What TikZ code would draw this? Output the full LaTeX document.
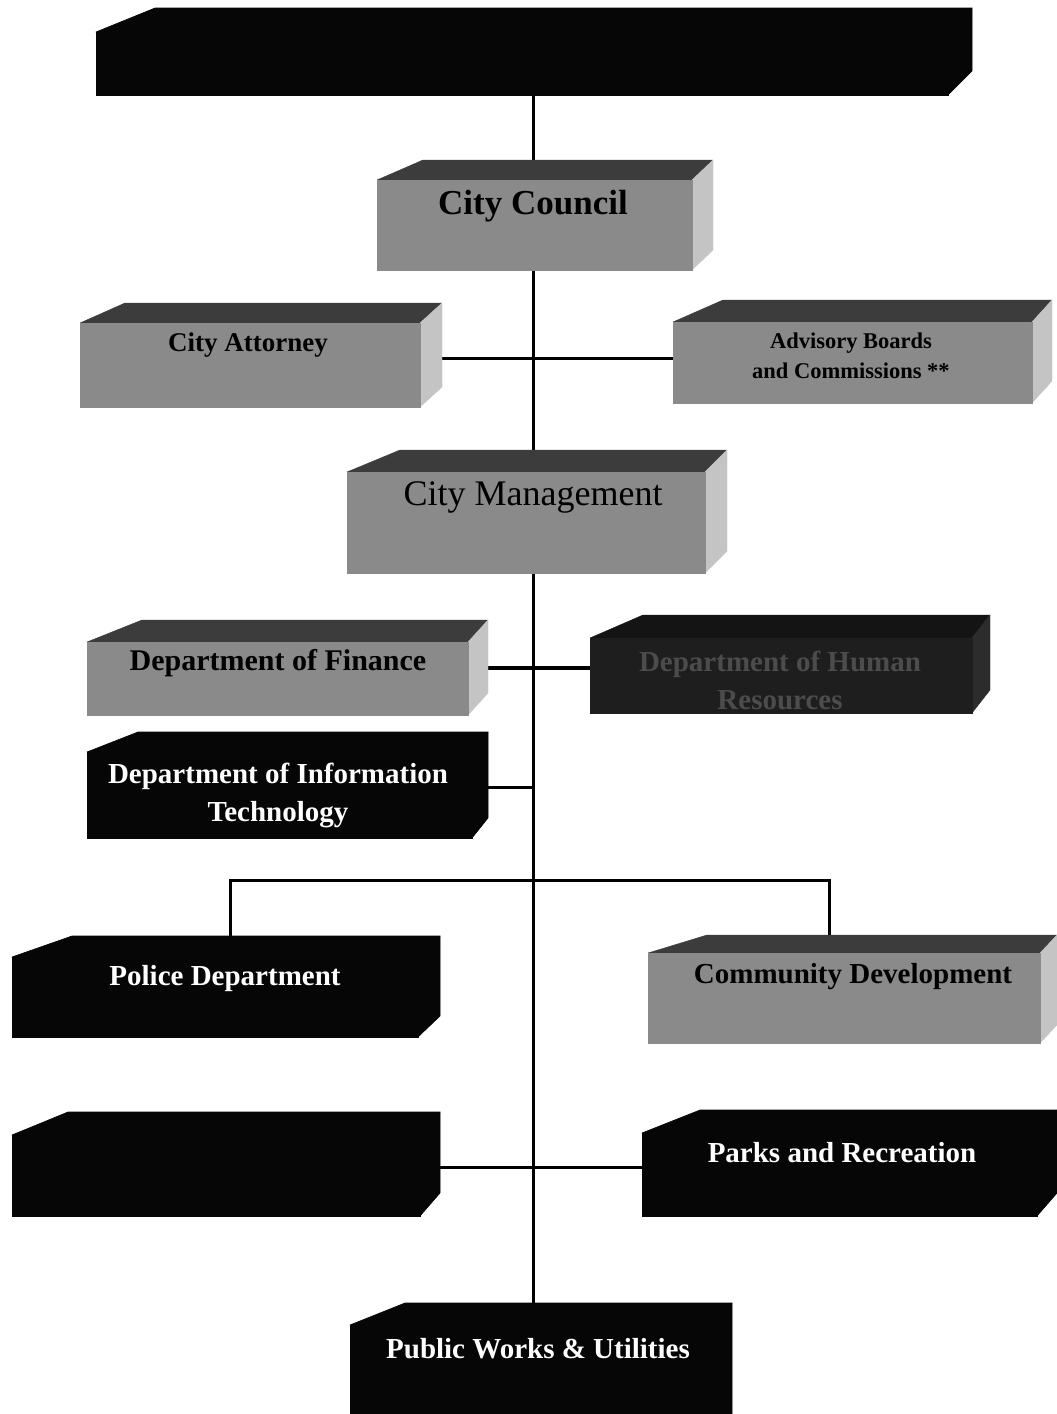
\documentclass[tikz,border=0pt]{standalone}
\usepackage{fontspec}
\setmainfont{Liberation Serif}
\usetikzlibrary{backgrounds}
\definecolor{gfrontc}{HTML}{8A8A8A}
\definecolor{gtopc}{HTML}{3C3C3C}
\definecolor{gsidec}{HTML}{C4C4C4}
\definecolor{hfrontc}{HTML}{1E1E1E}
\definecolor{htopc}{HTML}{141414}
\definecolor{hsidec}{HTML}{2C2C2C}
\definecolor{hrtextc}{HTML}{4C4C4C}
\definecolor{blk}{HTML}{060606}
\tikzset{
  gfront/.style={fill=gfrontc, draw=gfrontc, line width=0.4pt},
  gtop/.style={fill=gtopc, draw=gtopc, line width=0.4pt},
  gside/.style={fill=gsidec, draw=gsidec, line width=0.4pt},
  kfront/.style={fill=blk, draw=blk, line width=0.6pt},
  ktop/.style={fill=blk, draw=blk, line width=0.6pt},
  kside/.style={fill=blk, draw=blk, line width=0.6pt},
  hfront/.style={fill=hfrontc, draw=hfrontc, line width=0.4pt},
  htop/.style={fill=htopc, draw=htopc, line width=0.4pt},
  hside/.style={fill=hsidec, draw=hsidec, line width=0.4pt},
  facenode/.style={inner sep=0pt, outer sep=0pt, draw=none, rectangle},
  conn/.style={line width=3pt, draw=black},
  darktext/.style={font=\bfseries\fontsize{29}{38}\selectfont, text=black, align=center, inner sep=0pt},
  lighttext/.style={font=\bfseries\fontsize{29}{38}\selectfont, text=white, align=center, inner sep=0pt},
  hrtext/.style={font=\bfseries\fontsize{29}{38}\selectfont, text=hrtextc, align=center, inner sep=0pt},
}
% #1 name, #2 type (g,k,h), #3 xl, #4 xr, #5 back top y, #6 front top y, #7 bottom y, #8 back left x, #9 back right x
\newcommand\orgcube[9]{%
  \filldraw[#2top, line join=round] (#3,#6) -- (#8,#5) -- (#9,#5) -- (#4,#6) -- cycle;
  \filldraw[#2side, line join=round] (#4,#6) -- (#9,#5) -- (#9,{#7-(#6-#5)}) -- (#4,#7) -- cycle;
  \filldraw[#2front] (#3,#6) rectangle (#4,#7);
  \node[facenode, minimum width={(#4-#3)*1pt}, minimum height={(#7-#6)*1pt}] (#1) at ({(#3+#4)/2},{(#6+#7)/2}) {};
}
\begin{document}
\begin{tikzpicture}[x=1pt,y=-1pt]
\useasboundingbox (0,0) rectangle (1057,1414);
\clip (0,0) rectangle (1057,1414);

\orgcube{top}{k}{96}{948}{8}{32}{95}{155}{972}
\orgcube{cc}{g}{377}{692}{160}{180}{270}{423}{713}
\orgcube{att}{g}{80}{420}{303}{323}{407}{125}{442}
\orgcube{adv}{g}{673}{1032}{300}{322}{403}{723}{1052}
\orgcube{cm}{g}{347}{705}{450}{472}{573}{400}{727}
\orgcube{fin}{g}{87}{468}{620}{642}{715}{142}{488}
\orgcube{hr}{h}{590}{972}{615}{638}{713}{643}{990}
\orgcube{it}{k}{87}{472}{732}{752}{838}{138}{488}
\orgcube{pol}{k}{12}{418}{936}{957}{1037}{72}{440}
\orgcube{com}{g}{648}{1040}{935}{953}{1043}{707}{1057}
\orgcube{unn}{k}{12}{420}{1112}{1135}{1216}{68}{440}
\orgcube{parks}{k}{642}{1037}{1110}{1133}{1216}{700}{1057}
\orgcube{pw}{k}{350}{717}{1303}{1325}{1440}{405}{732}

\node[darktext, font=\bfseries\fontsize{35}{40}\selectfont] (cc-t) at (533,206) {City Council};
\node[darktext, font=\bfseries\fontsize{27}{32}\selectfont] (att-t) at (248,345) {City Attorney};
\node[darktext, font=\bfseries\fontsize{22.5}{30}\selectfont] (adv-t) at (851,356) {Advisory Boards\\and Commissions **};
\node[darktext, font=\fontsize{36}{40}\selectfont] (cm-t) at (533,497) {City Management};
\node[darktext, font=\bfseries\fontsize{30}{36}\selectfont] (fin-t) at (278,663) {Department of Finance};
\node[hrtext] (hr-t) at (780,680) {Department of Human\\Resources};
\node[lighttext] (it-t) at (278,795) {Department of Information\\Technology};
\node[lighttext] (pol-t) at (225,979) {Police Department};
\node[darktext] (com-t) at (853,977) {Community Development};
\node[lighttext] (parks-t) at (842,1153) {Parks and Recreation};
\node[lighttext] (pw-t) at (538,1349) {Public Works \& Utilities};

\coordinate (spine) at (533,0);
\coordinate (ja) at (533,358);
\coordinate (jf) at (533,668);
\coordinate (jit) at (533,787);
\coordinate (bl) at (230,880);
\coordinate (br) at (829,880);
\coordinate (jp) at (533,1167);

\begin{scope}[on background layer]
  \fill[white] (0,0) rectangle (1057,1414);
  \draw[conn] (top.south -| spine) -- (pw.center -| spine);
  \draw[conn] (att.east |- ja) -- (adv.west |- ja);
  \draw[conn, line width=4pt] (fin.east |- jf) -- (hr.west |- jf);
  \draw[conn] (it.east |- jit) -- (jit);
  \draw[conn] (pol.north -| bl) -- (bl) -- (br) -- (com.north -| br);
  \draw[conn] (unn.east |- jp) -- (parks.west |- jp);
\end{scope}
\end{tikzpicture}
\end{document}
